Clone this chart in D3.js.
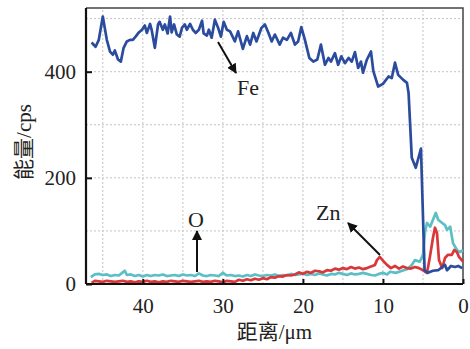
<!DOCTYPE html>
<html><head><meta charset="utf-8">
<script src="https://cdn.jsdelivr.net/npm/d3@7"></script>
<style>body{margin:0;background:#fff}svg{display:block}</style>
</head><body>
<script>
// distance (μm) and counts (cps)
const feDist = [46.4,45.9,45.5,45.0,44.5,44.1,43.75,43.5,43.1,42.75,42.4,42.0,41.6,41.25,40.9,40.5,40.1,39.75,39.5,39.1,38.9,38.5,38.1,37.9,37.5,37.25,36.9,36.6,36.4,36.1,35.75,35.4,35.1,34.75,34.5,34.1,33.75,33.4,33.0,32.6,32.4,32.0,31.75,31.4,31.0,30.6,30.25,29.9,29.5,29.1,28.5,28.1,27.5,27.0,26.6,26.2,25.8,25.2,24.75,24.3,23.9,23.5,22.9,22.5,22.0,21.5,21.0,20.6,20.2,19.75,19.2,18.7,18.2,17.75,17.25,16.8,16.5,16.0,15.6,15.2,14.75,14.3,13.9,13.5,13.1,12.75,12.5,12.0,11.5,11.2,10.6,10.0,9.3,8.9,8.5,8.1,7.5,7.0,6.8,6.4,5.9,5.25,4.8,4.4,3.75,3.1,2.6,2.25,2.0,1.5,1.0,0.6,0.1];
const feVals = [455,447,460,504,460,438,432,440,423,419,445,457,460,460,466,474,479,487,473,490,479,445,489,494,479,489,472,504,474,489,470,466,483,489,479,490,479,473,479,496,472,468,479,464,498,483,466,494,479,476,457,476,443,467,451,473,457,482,489,473,457,470,451,464,460,473,451,457,484,460,426,419,423,451,413,426,419,435,413,429,416,426,419,437,407,419,398,423,438,401,372,377,391,388,417,394,385,379,360,238,219,255,26,21,25,26,32,36,26,34,32,34,30];

const oDist = [46.5,46,45.5,45,44.5,44,43.5,43,42.5,42.25,42,41.5,41,40.5,40,39.5,39,38.5,38,37.5,37,36.5,36,35.5,35,34.5,34,33.5,33,32.5,32,31.5,31,30.5,30,29.5,29,28.5,28,27.5,27,26.5,26,25.5,25,24.5,24,23.5,23,22.5,22,21.5,21,20.5,20,19.5,19,18.5,18,17.5,17,16.5,16,15.5,15,14.5,14,13.5,13,12.5,12,11.5,11,10.5,10,9.5,9.1,8.4,7.6,7.0,6.4,6.0,5.4,5.0,4.75,4.5,4.1,3.75,3.4,3.1,2.6,2.25,2.0,1.6,1.25,0.75,0.4,0];
const oVals = [13,18,19,17,18,15,17,16,22,25,17,18,15,17,14,17,15,17,16,18,15,16,17,15,18,16,17,15,20,16,15,17,16,15,21,16,17,15,16,14,17,15,18,16,15,17,16,18,15,17,16,19,17,18,20,17,19,17,20,18,16,19,18,21,19,17,20,18,19,21,19,17,16,19,21,18,23,21,25,28,36,45,42,55,98,115,108,121,134,121,115,111,102,108,77,64,60,64];

const znDist = [46.4,46,45.5,45,44.5,44,43.5,43,42.5,42,41.5,41,40.5,40,39.5,39,38.5,38,37.5,37,36.5,36,35.5,35,34.5,34,33.5,33,32.5,32,31.5,31,30.5,30,29.5,29,28.5,28,27.5,27,26.5,26,25.5,25,24.5,24,23.5,23,22.5,22,21.5,21,20.5,20,19.5,19,18.5,18,17.5,17,16.5,16,15.5,15,14.5,14,13.5,13,12.5,12,11.5,11,10.75,10.4,10,9.5,9,8.5,8,7.5,7,6.5,6,5.5,5.0,4.75,4.5,4.2,3.75,3.5,3.25,3.0,2.6,2.25,1.9,1.4,1.1,0.75,0.5,0];
const znVals = [2,6,5,4,6,5,4,5,6,4,5,3,5,4,6,4,5,3,5,4,6,5,4,6,5,4,5,6,4,5,4,6,5,3,6,5,4,8,6,9,7,10,8,11,9,13,12,15,14,17,16,18,22,19,23,21,25,24,22,26,25,29,27,30,28,32,29,31,28,30,33,36,45,51,44,36,30,34,29,33,30,29,32,30,26,23,21,45,87,106,96,45,30,49,55,55,64,60,51,42];

const xTicks = [40,30,20,10,0];
const yTicks = [0,200,400];
const xGrid = [45,40,35,30,25,20,15,10,5];
const yGrid = [100,200,300,400,500];

const W = 470, H = 349;
const m = {l:86, r:7, t:8, b:65};
const svg = d3.select("body").append("svg").attr("width",W).attr("height",H);
const x = d3.scaleLinear().domain([47.1,0]).range([m.l, W-m.r]);
const y = d3.scaleLinear().domain([0,520]).range([H-m.b, m.t]);

const serif = "'Liberation Serif','Times New Roman',serif";
const cjk = "'Liberation Serif','Noto Sans CJK SC',serif";

// grid
svg.append("g").selectAll("line").data(xGrid).join("line")
  .attr("x1",d=>x(d)).attr("x2",d=>x(d)).attr("y1",y(0)).attr("y2",m.t)
  .attr("stroke","#c4c4c4").attr("stroke-width",1).attr("stroke-dasharray","2,2");
svg.append("g").selectAll("line").data(yGrid).join("line")
  .attr("x1",m.l).attr("x2",W-m.r).attr("y1",d=>y(d)).attr("y2",d=>y(d))
  .attr("stroke","#c4c4c4").attr("stroke-width",1).attr("stroke-dasharray","2,2");

// top/right frame
svg.append("path").attr("d",`M${m.l},${m.t}H${W-m.r}V${y(0)}`)
  .attr("fill","none").attr("stroke","#444").attr("stroke-width",1.5);

const line = d3.line().x(d=>x(d[0])).y(d=>y(d[1]));
const series = [
  {d:oDist, v:oVals, c:"#5cbfc6"},
  {d:znDist, v:znVals, c:"#d8383a"},
  {d:feDist, v:feVals, c:"#2b4c9e"}
];
series.forEach(s=>{
  svg.append("path").datum(s.d.map((d,i)=>[d,s.v[i]]))
    .attr("d",line).attr("fill","none").attr("stroke",s.c)
    .attr("stroke-width",2.7).attr("stroke-linejoin","round");
});

// axes
const xAxis = d3.axisBottom(x).tickValues(xTicks).tickSize(-5).tickPadding(14).tickFormat(d3.format("d"));
const gx = svg.append("g").attr("transform",`translate(0,${y(0)})`).call(xAxis);
const yAxis = d3.axisLeft(y).tickValues(yTicks).tickSize(-6).tickPadding(10);
const gy = svg.append("g").attr("transform",`translate(${m.l},0)`).call(yAxis);
[gx,gy].forEach(g=>{
  g.select(".domain").attr("stroke","#111").attr("stroke-width",2.2);
  g.selectAll(".tick line").attr("stroke","#111").attr("stroke-width",2);
  g.selectAll("text").attr("font-family",serif).attr("font-size",21).attr("fill","#222");
});
gx.select(".domain").attr("d",`M${m.l},0H${W-m.r}`);
gy.select(".domain").attr("d",`M0,${m.t}V${y(0)}`);

// titles
svg.append("text").attr("x",(m.l+W-m.r)/2).attr("y",339).attr("text-anchor","middle")
  .attr("font-family",cjk).attr("font-size",21).attr("fill","#222").text("距离/μm");
svg.append("text").attr("transform","translate(31,142) rotate(-90)").attr("text-anchor","middle")
  .attr("font-family",cjk).attr("font-size",21).attr("fill","#222").text("能量/cps");

// annotations
const defs = svg.append("defs");
defs.append("marker").attr("id","ah").attr("viewBox","0 0 10 10").attr("refX",9).attr("refY",5)
  .attr("markerWidth",5).attr("markerHeight",5).attr("orient","auto-start-reverse")
  .append("path").attr("d","M0,0L10,5L0,10z").attr("fill","#111");
function arrow(x1,y1,x2,y2){
  svg.append("line").attr("x1",x1).attr("y1",y1).attr("x2",x2).attr("y2",y2)
    .attr("stroke","#111").attr("stroke-width",2).attr("marker-end","url(#ah)");
}
arrow(218,42,236,73);
arrow(197,272,197,231);
arrow(380,255,348,223);
const lab = (t,xx,yy)=>svg.append("text").attr("x",xx).attr("y",yy).attr("font-family",serif)
  .attr("font-size",22).attr("fill","#222").text(t);
lab("Fe",237,95);
lab("O",188,227);
lab("Zn",316,220);
</script>
</body></html>
